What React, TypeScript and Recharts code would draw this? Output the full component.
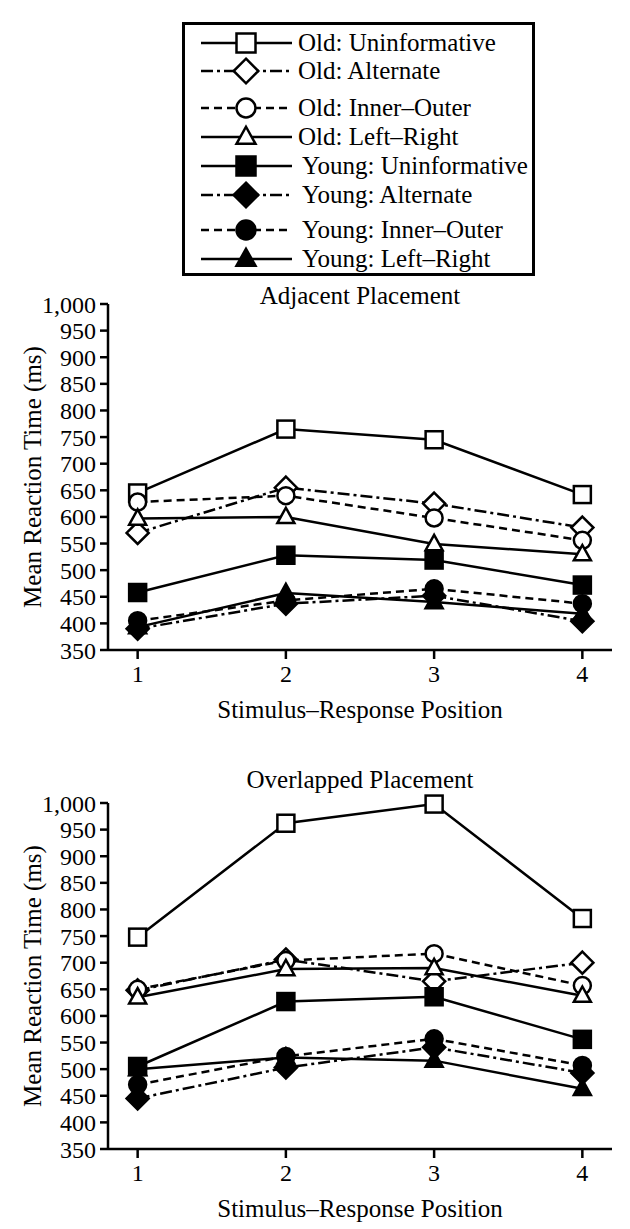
import { LineChart, Line, XAxis, YAxis } from "recharts";

const FONT = "'Times New Roman', 'Liberation Serif', 'DejaVu Serif', Times, serif";

const positions = [1, 2, 3, 4];
const yTicks = [350, 400, 450, 500, 550, 600, 650, 700, 750, 800, 850, 900, 950, 1000];

// Adjacent placement, mean RT in ms
const adjOldUninformative = [645, 765, 745, 642];
const adjOldAlternate = [570, 655, 625, 580];
const adjOldInnerOuter = [628, 640, 598, 556];
const adjOldLeftRight = [597, 600, 549, 530];
const adjYoungUninformative = [458, 528, 519, 472];
const adjYoungAlternate = [390, 437, 452, 404];
const adjYoungInnerOuter = [405, 443, 465, 437];
const adjYoungLeftRight = [393, 457, 440, 418];

// Overlapped placement, mean RT in ms
const ovlOldUninformative = [748, 962, 998, 783];
const ovlOldAlternate = [648, 706, 665, 700];
const ovlOldInnerOuter = [650, 704, 717, 657];
const ovlOldLeftRight = [635, 688, 690, 638];
const ovlYoungUninformative = [505, 627, 636, 556];
const ovlYoungAlternate = [445, 503, 541, 493];
const ovlYoungInnerOuter = [471, 524, 557, 507];
const ovlYoungLeftRight = [500, 522, 516, 463];

type Shape = "square" | "diamond" | "circle" | "triangle";

const DASHED = "8 5";
const DASHDOT = "12 4 3 4";

const series: { key: string; name: string; shape: Shape; filled: boolean; dash?: string }[] = [
  { key: "oldUninformative", name: "Old: Uninformative", shape: "square", filled: false },
  { key: "oldAlternate", name: "Old: Alternate", shape: "diamond", filled: false, dash: DASHDOT },
  { key: "oldInnerOuter", name: "Old: Inner–Outer", shape: "circle", filled: false, dash: DASHED },
  { key: "oldLeftRight", name: "Old: Left–Right", shape: "triangle", filled: false },
  { key: "youngUninformative", name: "Young: Uninformative", shape: "square", filled: true },
  { key: "youngAlternate", name: "Young: Alternate", shape: "diamond", filled: true, dash: DASHDOT },
  { key: "youngInnerOuter", name: "Young: Inner–Outer", shape: "circle", filled: true, dash: DASHED },
  { key: "youngLeftRight", name: "Young: Left–Right", shape: "triangle", filled: true },
];

const buildRows = (cols: Record<string, number[]>) =>
  positions.map((pos, i) => {
    const row: Record<string, number> = { pos };
    Object.keys(cols).forEach((k) => (row[k] = cols[k][i]));
    return row;
  });

const adjacentData = buildRows({
  oldUninformative: adjOldUninformative,
  oldAlternate: adjOldAlternate,
  oldInnerOuter: adjOldInnerOuter,
  oldLeftRight: adjOldLeftRight,
  youngUninformative: adjYoungUninformative,
  youngAlternate: adjYoungAlternate,
  youngInnerOuter: adjYoungInnerOuter,
  youngLeftRight: adjYoungLeftRight,
});

const overlappedData = buildRows({
  oldUninformative: ovlOldUninformative,
  oldAlternate: ovlOldAlternate,
  oldInnerOuter: ovlOldInnerOuter,
  oldLeftRight: ovlOldLeftRight,
  youngUninformative: ovlYoungUninformative,
  youngAlternate: ovlYoungAlternate,
  youngInnerOuter: ovlYoungInnerOuter,
  youngLeftRight: ovlYoungLeftRight,
});

function Marker({ shape, filled, cx, cy, s }: { shape: Shape; filled: boolean; cx: number; cy: number; s: number }) {
  const style = { fill: filled ? "#000" : "#fff", stroke: "#000", strokeWidth: 2.5 };
  if (shape === "square") {
    return <rect x={cx - s / 2} y={cy - s / 2} width={s} height={s} {...style} />;
  }
  if (shape === "diamond") {
    const d = s * 0.65;
    return <polygon points={`${cx},${cy - d} ${cx + d},${cy} ${cx},${cy + d} ${cx - d},${cy}`} {...style} />;
  }
  if (shape === "circle") {
    return <circle cx={cx} cy={cy} r={s / 2} {...style} />;
  }
  const h = s * 0.9;
  return (
    <polygon
      points={`${cx},${cy - h * 0.6} ${cx + s / 2},${cy + h * 0.4} ${cx - s / 2},${cy + h * 0.4}`}
      {...style}
    />
  );
}

// legend rows are not evenly spaced in the original
const legendRowY = [43, 71, 108, 137, 166, 195, 230, 259];

function LegendBox() {
  return (
    <svg width={630} height={285} style={{ position: "absolute", top: 0, left: 0 }}>
      <rect x={183.5} y={23.5} width={350} height={251} fill="#fff" stroke="#000" strokeWidth={3} />
      {series.map((s, i) => {
        const y = legendRowY[i];
        return (
          <g key={s.key}>
            <line x1={201} x2={292} y1={y} y2={y} stroke="#000" strokeWidth={2.5} strokeDasharray={s.dash} />
            <Marker shape={s.shape} filled={s.filled} cx={246} cy={y} s={19} />
            <text x={i < 4 ? 298 : 302} y={y + 8} style={{ fontFamily: FONT, fontSize: 25 }} fill="#000">
              {s.name}
            </text>
          </g>
        );
      })}
    </svg>
  );
}

function Panel({ data, title, top, titleY }: { data: Record<string, number>[]; title: string; top: number; titleY: number }) {
  return (
    <div style={{ position: "absolute", top, left: 0, width: 630, height: 730 }}>
      <div
        style={{
          position: "absolute",
          top: titleY - 15,
          left: 108,
          width: 504,
          textAlign: "center",
          fontFamily: FONT,
          fontSize: 25,
          lineHeight: "28px",
          color: "#000",
        }}
      >
        {title}
      </div>
      <LineChart width={630} height={730} data={data} margin={{ top: 304, right: 18, bottom: 10, left: 8 }}>
        <XAxis
          dataKey="pos"
          type="number"
          domain={[0.8, 4.2]}
          ticks={positions}
          height={70}
          tickSize={9}
          tickMargin={6}
          axisLine={{ stroke: "#000", strokeWidth: 2.5 }}
          tickLine={{ stroke: "#000", strokeWidth: 2.5 }}
          tick={{ fill: "#000", fontSize: 24, fontFamily: FONT }}
          label={{
            value: "Stimulus–Response Position",
            position: "insideBottom",
            offset: 2,
            style: { fill: "#000", fontSize: 25, fontFamily: FONT },
          }}
        />
        <YAxis
          type="number"
          domain={[350, 1000]}
          ticks={yTicks}
          interval={0}
          width={100}
          tickSize={8}
          tickMargin={4}
          tickFormatter={(v: number) => v.toLocaleString("en-US")}
          axisLine={{ stroke: "#000", strokeWidth: 2.5 }}
          tickLine={{ stroke: "#000", strokeWidth: 2.5 }}
          tick={{ fill: "#000", fontSize: 24, fontFamily: FONT }}
          label={{
            value: "Mean Reaction Time (ms)",
            angle: -90,
            position: "insideLeft",
            offset: 24,
            style: { textAnchor: "middle", fill: "#000", fontSize: 25, fontFamily: FONT },
          }}
        />
        {series.map((s) => (
          <Line
            key={s.key}
            dataKey={s.key}
            name={s.name}
            type="linear"
            stroke="#000"
            strokeWidth={2.5}
            strokeDasharray={s.dash}
            isAnimationActive={false}
            dot={(p: any) => (
              <Marker key={`${s.key}-${p.index}`} shape={s.shape} filled={s.filled} cx={p.cx} cy={p.cy} s={17} />
            )}
            activeDot={false}
          />
        ))}
      </LineChart>
    </div>
  );
}

export default function App() {
  return (
    <div style={{ position: "absolute", top: 0, left: 0, width: 630, height: 1229, background: "#fff", overflow: "hidden" }}>
      <LegendBox />
      <Panel data={adjacentData} title="Adjacent Placement" top={0} titleY={297} />
      <Panel data={overlappedData} title="Overlapped Placement" top={499} titleY={282} />
    </div>
  );
}
